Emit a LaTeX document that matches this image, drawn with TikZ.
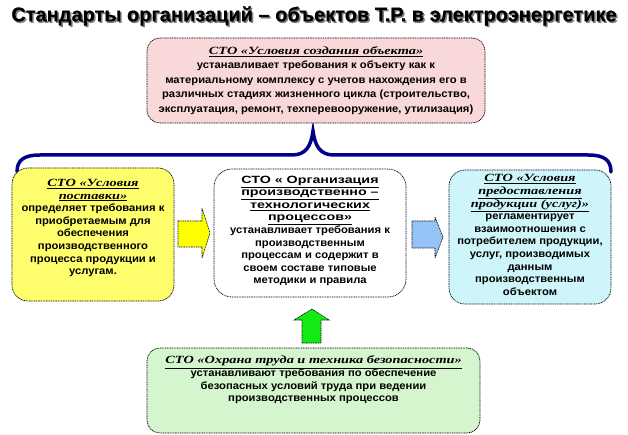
\documentclass[tikz,border=0pt]{standalone}
\usepackage{fontspec}
\setmainfont{Liberation Sans}[FakeStretch=1.07]
\newfontfamily\headfont[FakeBold=0.6]{Liberation Sans}
\newfontfamily\ttlserif[FakeStretch=1.3]{Liberation Serif}
\newfontfamily\ttlsans[FakeStretch=1.36]{Liberation Sans}
\definecolor{pinkfill}{RGB}{248,216,216}
\definecolor{yelfill}{RGB}{255,255,110}
\definecolor{cyanfill}{RGB}{205,245,250}
\definecolor{greenfill}{RGB}{212,245,205}
\definecolor{yelarrow}{RGB}{255,255,0}
\definecolor{bluearrow}{RGB}{150,195,245}
\definecolor{greenarrow}{RGB}{20,235,20}
\definecolor{bracecol}{RGB}{0,0,140}
\newcommand{\itttl}[1]{{\ttlserif\bfseries\itshape\fontsize{11}{12.6}\selectfont\underline{#1}}}
\newcommand{\upttl}[1]{{\ttlsans\bfseries\fontsize{10.5}{12.6}\selectfont\underline{#1}}}
\tikzset{
  stdbox/.style={draw=black, dash pattern=on 1pt off 0.7pt, line width=0.7pt, inner sep=0pt},
  boxtext/.style={align=center, inner sep=0pt, font=\bfseries\fontsize{10.5}{12.6}\selectfont},
  blockarrow/.style={draw=black, dash pattern=on 1pt off 0.7pt, line width=0.6pt},
  bracestyle/.style={draw=bracecol, line width=3.5pt, line cap=round}
}
\begin{document}
\begin{tikzpicture}[x=1pt,y=-1pt]
\useasboundingbox (0,0) rectangle (628,435);
% title
\node[text=black!50, font=\headfont\bfseries\fontsize{20}{22}\selectfont] (titleshadow) at (315.5,17.5) {Стандарты организаций – объектов Т.Р. в электроэнергетике};
\node[text=black, font=\headfont\bfseries\fontsize{20}{22}\selectfont] (title) at (314,16) {Стандарты организаций – объектов Т.Р. в электроэнергетике};
% brace
\coordinate (bracetip) at (313,131);
\coordinate (braceleft) at (17,172);
\coordinate (braceright) at (611,172);
\draw[bracestyle] (braceleft) .. controls (17,160) and (24,155) .. (40,155) -- (292,155) .. controls (306,155) and (311,146) .. (bracetip) .. controls (315,146) and (320,155) .. (334,155) -- (588,155) .. controls (604,155) and (611,160) .. (braceright);
% boxes
\node[stdbox, rounded corners=13pt, fill=pinkfill, minimum width=338pt, minimum height=85pt] (pink) at (316,80.5) {};
\node[stdbox, rounded corners=16pt, fill=yelfill, minimum width=162pt, minimum height=133pt] (yellow) at (93,234.5) {};
\node[stdbox, rounded corners=18pt, fill=white, minimum width=192pt, minimum height=128pt] (center) at (310,233) {};
\node[stdbox, rounded corners=16pt, fill=cyanfill, minimum width=162pt, minimum height=134pt] (cyan) at (530,237) {};
\node[stdbox, rounded corners=13pt, fill=greenfill, minimum width=333pt, minimum height=85pt] (green) at (313.5,390.5) {};
% texts
\node[boxtext, font=\bfseries\fontsize{10.5}{14.4}\selectfont] (pinktext) at (316,80.5) {\itttl{СТО «Условия создания объекта»}\\
устанавливает требования к объекту как к\\
материальному комплексу с учетов нахождения его в\\
различных стадиях жизненного цикла (строительство,\\
эксплуатация, ремонт, техперевооружение, утилизация)};
\node[boxtext] (yellowtext) at (93,228) {\itttl{СТО «Условия}\\
\itttl{поставки»}\\
определяет требования к\\
приобретаемым для\\
обеспечения\\
производственного\\
процесса продукции и\\
услугам.};
\node[boxtext] (centertext) at (310,231) {\upttl{СТО « Организация}\\
\upttl{производственно –}\\
\upttl{технологических}\\
\upttl{процессов»}\\
устанавливает требования к\\
производственным\\
процессам и содержит в\\
своем составе типовые\\
методики и правила};
\node[boxtext] (cyantext) at (530,235) {\itttl{СТО «Условия}\\
\itttl{предоставления}\\
\itttl{продукции (услуг)»}\\
регламентирует\\
взаимоотношения с\\
потребителем продукции,\\
услуг, производимых\\
данным\\
производственным\\
объектом};
\node[boxtext] (greentext) at (313.5,380) {\itttl{СТО «Охрана труда и техника безопасности»}\\
устанавливают требования по обеспечение\\
безопасных условий труда при ведении\\
производственных процессов};
% block arrows
\draw[blockarrow, fill=yelarrow] (178,221) -- (202,221) -- (202,208) -- (210,233) -- (202,258) -- (202,247) -- (178,247) -- cycle;
\draw[blockarrow, fill=bluearrow] (412,221) -- (435,221) -- (435,217) -- (443,237) -- (435,258) -- (435,248) -- (412,248) -- cycle;
\draw[blockarrow, fill=greenarrow] (302,343) -- (302,320) -- (294,320) -- (312,309) -- (329,320) -- (321,320) -- (321,343) -- cycle;
\end{tikzpicture}
\end{document}
